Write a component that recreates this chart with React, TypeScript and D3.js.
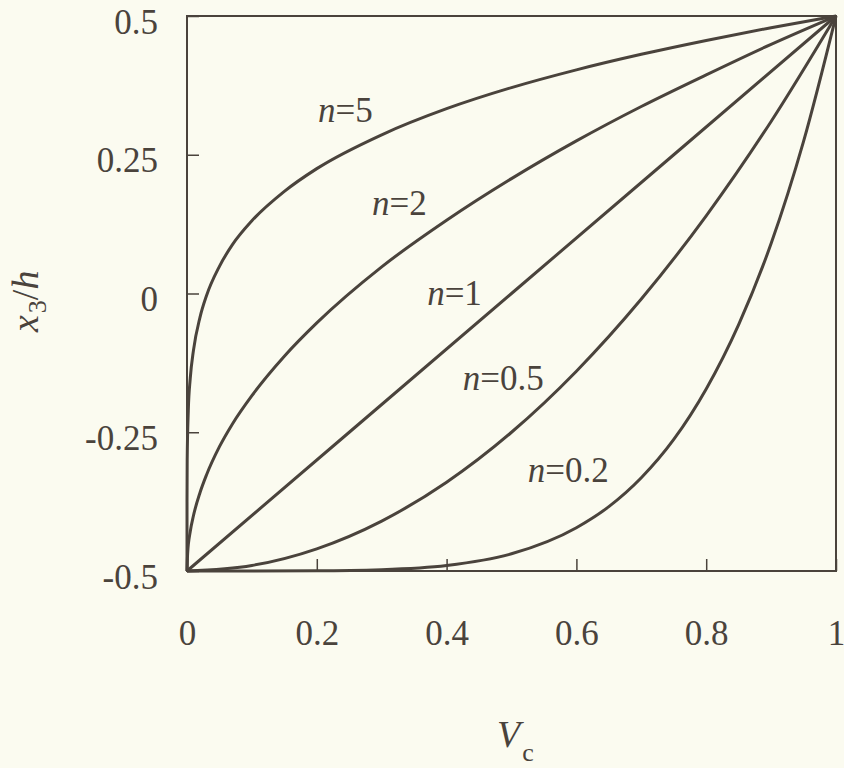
import React, { useEffect, useRef } from 'react'
import * as d3 from 'd3'

// values: [Vc, x3/h]
const curveN5 = [[0, -0.5], [0.00003, -0.375], [0.0003, -0.3], [0.002, -0.211], [0.005, -0.153], [0.01, -0.102], [0.02, -0.043], [0.03, -0.004], [0.05, 0.049], [0.07, 0.088], [0.1, 0.131], [0.15, 0.184], [0.2, 0.225], [0.3, 0.286], [0.4, 0.333], [0.5, 0.371], [0.6, 0.403], [0.7, 0.431], [0.8, 0.456], [0.9, 0.479], [1, 0.5]]
const curveN2 = [[0, -0.5], [0.001, -0.468], [0.005, -0.429], [0.01, -0.4], [0.02, -0.359], [0.03, -0.327], [0.05, -0.276], [0.07, -0.235], [0.1, -0.184], [0.15, -0.113], [0.2, -0.053], [0.3, 0.048], [0.4, 0.132], [0.5, 0.207], [0.6, 0.275], [0.7, 0.337], [0.8, 0.394], [0.9, 0.449], [1, 0.5]]
const curveN1 = [[0, -0.5], [0.5, 0], [1, 0.5]]
const curveN05 = [[0, -0.5], [0.1, -0.49], [0.2, -0.46], [0.3, -0.41], [0.4, -0.34], [0.5, -0.25], [0.6, -0.14], [0.7, -0.01], [0.8, 0.14], [0.9, 0.31], [1, 0.5]]
const curveN02 = [[0, -0.5], [0.2, -0.4997], [0.3, -0.4976], [0.4, -0.49], [0.5, -0.469], [0.6, -0.422], [0.65, -0.384], [0.7, -0.332], [0.75, -0.263], [0.8, -0.172], [0.85, -0.056], [0.9, 0.09], [0.95, 0.274], [1, 0.5]]

const curves = [curveN5, curveN2, curveN1, curveN05, curveN02]
const curveNames = ['5', '2', '1', '0.5', '0.2']

const xTicks = [0, 0.2, 0.4, 0.6, 0.8, 1]
const yTicks = [-0.5, -0.25, 0, 0.25, 0.5]

// where the n= labels sit, in data units (left edge, baseline)
const labelAt = [[0.202, 0.309], [0.285, 0.141], [0.37, -0.021], [0.425, -0.174], [0.525, -0.34]]

const W = 844
const H = 768
const bg = '#fbfbf0'
const ink = '#4a433c'
const font = '"Liberation Serif", "Times New Roman", serif'

export default function App() {
    const ref = useRef<SVGSVGElement>(null)

    useEffect(() => {
        const svg = d3.select(ref.current)

        const x = d3.scaleLinear().domain([0, 1]).range([187, 836])
        const y = d3.scaleLinear().domain([-0.5, 0.5]).range([571, 16])

        svg.append('rect').attr('width', W).attr('height', H).attr('fill', bg)

        const g = svg.append('g')

        // curves
        const line = d3.line<number[]>()
            .x(d => x(d[0]))
            .y(d => y(d[1]))
            .curve(d3.curveMonotoneX)

        curves.forEach(c => {
            g.append('path')
                .datum(c)
                .attr('d', line)
                .attr('fill', 'none')
                .attr('stroke', ink)
                .attr('stroke-width', 3)
                .attr('stroke-linejoin', 'round')
        })

        // frame
        g.append('rect')
            .attr('x', x(0)).attr('y', y(0.5))
            .attr('width', x(1) - x(0)).attr('height', y(-0.5) - y(0.5))
            .attr('fill', 'none').attr('stroke', ink).attr('stroke-width', 2)

        // x axis, ticks pointing inward
        const gX = g.append('g')
            .attr('transform', `translate(0,${y(-0.5)})`)
            .call(d3.axisTop(x).tickValues(xTicks).tickSize(12).tickFormat(d => String(d)))
        gX.select('.domain').remove()
        gX.selectAll('.tick line').attr('stroke', ink).attr('stroke-width', 1.5)
        gX.selectAll('.tick text')
            .attr('y', 74).attr('dy', 0)
            .attr('font-family', font).attr('font-size', 35).attr('fill', ink)

        const gY = g.append('g')
            .attr('transform', `translate(${x(0)},0)`)
            .call(d3.axisRight(y).tickValues(yTicks).tickSize(12).tickFormat(d => String(d)))
        gY.select('.domain').remove()
        gY.selectAll('.tick line').attr('stroke', ink).attr('stroke-width', 1.5)
        gY.selectAll('.tick text')
            .attr('x', -29).attr('dy', 17)
            .attr('text-anchor', 'end')
            .attr('font-family', font).attr('font-size', 35).attr('fill', ink)

        // curve labels
        curveNames.forEach((name, i) => {
            const t = g.append('text')
                .attr('x', x(labelAt[i][0])).attr('y', y(labelAt[i][1]))
                .attr('font-family', font).attr('font-size', 35).attr('fill', ink)
            t.append('tspan').attr('font-style', 'italic').text('n')
            t.append('tspan').text('=' + name)
        })

        // axis titles
        const xt = g.append('text')
            .attr('x', 497).attr('y', 747)
            .attr('font-family', font).attr('font-size', 38).attr('fill', ink)
        xt.append('tspan').attr('font-style', 'italic').text('V')
        xt.append('tspan').attr('font-size', 26).attr('dy', 14).attr('dx', 2).text('c')

        const yt = g.append('text')
            .attr('transform', 'translate(38,332) rotate(-90)')
            .attr('font-family', font).attr('font-size', 38).attr('fill', ink)
        yt.append('tspan').attr('font-style', 'italic').text('x')
        yt.append('tspan').attr('font-size', 26).attr('dy', 8).attr('dx', 2).text('3')
        yt.append('tspan').attr('dy', -8).text('/')
        yt.append('tspan').attr('font-style', 'italic').text('h')

        return () => {
            svg.selectAll('*').remove()
        }
    }, [])

    return (
        <svg
            ref={ref}
            width={W}
            height={H}
            style={{ position: 'absolute', left: 0, top: 0, display: 'block' }}
        />
    )
}
